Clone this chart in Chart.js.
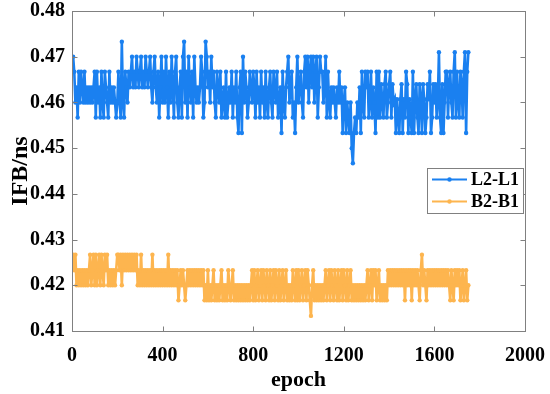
<!DOCTYPE html>
<html>
<head>
<meta charset="utf-8">
<script src="https://cdn.jsdelivr.net/npm/chart.js@4"></script>
<style>
  html, body { margin: 0; padding: 0; background: #fff; }
  #wrap { width: 550px; height: 394px; }
</style>
</head>
<body>
<div id="wrap"><canvas id="chartIfb" width="550" height="394"></canvas></div>
<script>
// series labels and axis ticks
const seriesNames = ["L2-L1", "B2-B1"];
const xTicks = [0, 400, 800, 1200, 1600, 2000];
const yTicks = [0.41, 0.42, 0.43, 0.44, 0.45, 0.46, 0.47, 0.48];

// one sample every 5 epochs, 50 epochs per block
const epochStep = 5;

// L2-L1 quantised IFB levels (ns)
const blueLevels = {
    "1": 0.4467, "2": 0.45, "3": 0.4533, "4": 0.4567, "5": 0.46,
    "6": 0.4633, "7": 0.4667, "8": 0.47, "9": 0.4733,
    "a": 0.471, "b": 0.464, "c": 0.4607
};
const blueCodes = [
    "8756475765", "7565656567", "4756475476", "5475656545", "7549547657",
    "6786768767", "8676876786", "5786574685", "7586475864", "7854674895",
    "7486574865", "6568745986", "7586754765", "7456474565", "7465743673",
    "8576457657", "6475647564", "7546754765", "7456375467", "8567453685",
    "6754786857", "8685784687", "7568475465", "6546575635", "6354352134",
    "3546375476", "7457465374", "74b54b745b", "74b5c3c43c", "b3c47b3c43",
    "73cb43bc3b", "c34bc734b5", "b45a43b357", "74b7547a47", "547b47a37a"
];

// B2-B1 quantised IFB levels (ns)
const orangeLevels = {
    "1": 0.4133, "2": 0.4167, "3": 0.42, "4": 0.4233, "5": 0.4267
};
const orangeCodes = [
    "5453434343", "4343453453", "5345354354", "5343434345", "5453545454",
    "5454545343", "5343434343", "5343434343", "4343534343", "4342343432",
    "3434343434", "3434342324", "2323423232", "3423232432", "3423232323",
    "2323232342", "4234234243", "2432423424", "3242342342", "3232432424",
    "2342342432", "1342323232", "3234234243", "2432423424", "3242342323",
    "2323232323", "4234243423", "4232323243", "4343434343", "4342434342",
    "4343432453", "4324343434", "3434343434", "3432432434", "3423423423"
];

function decode(codes, levels) {
    return codes.join("").split("").map((c, i) => ({ x: (i + 1) * epochStep, y: levels[c] }));
}

const blueColor = "#1a80f0";
const orangeColor = "#fdb54f";
const boxColor = "#808080";
const fontFamily = "'Liberation Serif', 'Times New Roman', serif";

// drop the automatic label overflow padding, layout.padding decides the plot box
function noPad(s) {
    s.paddingLeft = 0; s.paddingRight = 0; s.paddingTop = 0; s.paddingBottom = 0;
}

// MATLAB style box, inward ticks and legend
const matlabBox = {
    id: "matlabBox",
    afterDraw(chart) {
        const { ctx, chartArea: a, scales } = chart;
        const L = Math.round(a.left) + 0.5, R = Math.round(a.right) + 0.5;
        const T = Math.round(a.top) + 0.5, B = Math.round(a.bottom) + 0.5;
        ctx.save();
        ctx.strokeStyle = boxColor;
        ctx.lineWidth = 1;
        ctx.strokeRect(L, T, R - L, B - T);
        ctx.beginPath();
        xTicks.forEach(v => {
            const px = Math.round(scales.x.getPixelForValue(v)) + 0.5;
            ctx.moveTo(px, B); ctx.lineTo(px, B - 5);
            ctx.moveTo(px, T); ctx.lineTo(px, T + 5);
        });
        yTicks.forEach(v => {
            const py = Math.round(scales.y.getPixelForValue(v)) + 0.5;
            ctx.moveTo(L, py); ctx.lineTo(L + 5, py);
            ctx.moveTo(R, py); ctx.lineTo(R - 5, py);
        });
        ctx.stroke();

        // legend
        const lx = 427, ly = 168, lw = 96, lh = 45;
        ctx.fillStyle = "#fff";
        ctx.fillRect(lx, ly, lw, lh);
        ctx.strokeRect(lx + 0.5, ly + 0.5, lw, lh);
        ctx.font = "bold 18px " + fontFamily;
        ctx.textBaseline = "middle";
        chart.data.datasets.forEach((ds, i) => {
            const cy = ly + 11.5 + i * 22;
            ctx.strokeStyle = ds.borderColor;
            ctx.lineWidth = 2;
            ctx.beginPath();
            ctx.moveTo(lx + 5, cy); ctx.lineTo(lx + 40, cy);
            ctx.stroke();
            ctx.fillStyle = ds.borderColor;
            ctx.beginPath();
            ctx.arc(lx + 22.5, cy, 2.2, 0, Math.PI * 2);
            ctx.fill();
            ctx.fillStyle = "#000";
            ctx.fillText(ds.label, lx + 44, cy + 1);
        });
        ctx.restore();
    }
};

new Chart(document.getElementById("chartIfb"), {
    type: "line",
    data: {
        datasets: [
            {
                label: seriesNames[0],
                data: decode(blueCodes, blueLevels),
                borderColor: blueColor,
                backgroundColor: blueColor,
                borderWidth: 2.6,
                pointRadius: 2.2,
                pointBorderWidth: 0,
                tension: 0
            },
            {
                label: seriesNames[1],
                data: decode(orangeCodes, orangeLevels),
                borderColor: orangeColor,
                backgroundColor: orangeColor,
                borderWidth: 2.6,
                pointRadius: 2.2,
                pointBorderWidth: 0,
                tension: 0
            }
        ]
    },
    options: {
        responsive: false,
        animation: false,
        devicePixelRatio: 1,
        layout: { padding: { top: 11, right: 25, left: 0, bottom: 0 } },
        plugins: { legend: { display: false }, tooltip: { enabled: false } },
        scales: {
            x: {
                type: "linear",
                min: 0, max: 2000,
                afterBuildTicks: s => { s.ticks = xTicks.map(v => ({ value: v })); },
                afterFit: s => { s.height = 63; noPad(s); },
                grid: { display: false, drawTicks: false },
                border: { display: false },
                ticks: { color: "#000", padding: 13, callback: v => String(v),
                         font: { family: fontFamily, size: 20, weight: "bold" } },
                title: { display: true, text: "epoch", color: "#000", padding: { top: 3, bottom: 0 },
                         font: { family: fontFamily, size: 22, weight: "bold" } }
            },
            y: {
                min: 0.41, max: 0.48,
                afterBuildTicks: s => { s.ticks = yTicks.map(v => ({ value: v })); },
                afterFit: s => { s.width = 72; noPad(s); },
                grid: { display: false, drawTicks: false },
                border: { display: false },
                ticks: { color: "#000", padding: 7, callback: v => v.toFixed(2),
                          font: { family: fontFamily, size: 20, weight: "bold" } },
                title: { display: true, text: "IFB/ns", color: "#000", padding: { top: 6, bottom: 0 },
                         font: { family: fontFamily, size: 24, weight: "bold" } }
            }
        }
    },
    plugins: [matlabBox]
});
</script>
</body>
</html>
